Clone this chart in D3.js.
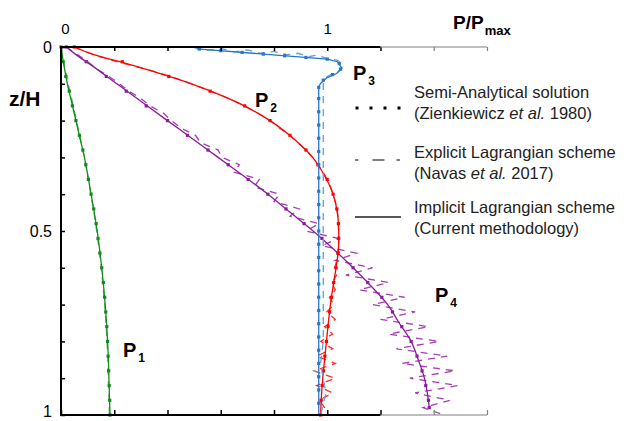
<!DOCTYPE html>
<html>
<head>
<meta charset="utf-8">
<script src="https://cdn.jsdelivr.net/npm/d3@7"></script>
<style>
    body { margin: 0; background: #fff; }
    text { font-family: "Liberation Sans", Arial, sans-serif; }
</style>
</head>
<body>
<svg id="chart" width="627" height="421"></svg>
<script>

// depth grids (z/H)
let zImplicit = [0, 0.02, 0.05, 0.1, 0.15, 0.2, 0.25, 0.3, 0.35, 0.4, 0.45, 0.5, 0.55, 0.6, 0.65, 0.7, 0.75, 0.8, 0.85, 0.9, 0.95, 1];
let z4Implicit = [0, 0.02, 0.05, 0.1, 0.15, 0.2, 0.25, 0.3, 0.35, 0.4, 0.45, 0.5, 0.55, 0.6, 0.65, 0.7, 0.75, 0.8, 0.85, 0.9, 0.95, 0.98];
let zSemi = [0, 0.04, 0.08, 0.12, 0.16, 0.2, 0.24, 0.28, 0.32, 0.36, 0.4, 0.44, 0.48, 0.52, 0.56, 0.6, 0.64, 0.68, 0.72, 0.76, 0.8, 0.84, 0.88, 0.92, 0.96, 1];
let z4Semi = [0, 0.04, 0.08, 0.12, 0.16, 0.2, 0.24, 0.28, 0.32, 0.36, 0.4, 0.44, 0.48, 0.52, 0.56, 0.6, 0.64, 0.68, 0.72, 0.76, 0.8, 0.84, 0.88, 0.92, 0.96, 0.98];
let zExplicit = [0, 0.02, 0.04, 0.06, 0.08, 0.1, 0.12, 0.14, 0.16, 0.18, 0.2, 0.22, 0.24, 0.26, 0.28, 0.3, 0.32, 0.34, 0.36, 0.38, 0.4, 0.42, 0.44, 0.46, 0.48, 0.5,
    0.52, 0.54, 0.56, 0.58, 0.6, 0.62, 0.64, 0.66, 0.68, 0.7, 0.72, 0.74, 0.76, 0.78, 0.8, 0.82, 0.84, 0.86, 0.88, 0.9, 0.92, 0.94, 0.96, 0.98, 1];

// P1
let p1Implicit = [0, 0.004, 0.011, 0.024, 0.04, 0.056, 0.072, 0.088, 0.101, 0.113, 0.125, 0.136, 0.145, 0.153, 0.16, 0.166, 0.171, 0.175, 0.178, 0.18, 0.182, 0.184];
let p1Explicit = [0, 0.005, 0.013, 0.027, 0.043, 0.058, 0.073, 0.088, 0.1, 0.112, 0.124, 0.134, 0.143, 0.151, 0.158, 0.164, 0.169, 0.173, 0.176, 0.178, 0.18, 0.182];
let p1Semi = [0, 0.008, 0.018, 0.031, 0.043, 0.056, 0.069, 0.082, 0.093, 0.103, 0.113, 0.123, 0.132, 0.139, 0.146, 0.153, 0.159, 0.164, 0.168, 0.172, 0.175, 0.177, 0.179, 0.181, 0.183, 0.184];

// P2
let p2Implicit = [0.05, 0.12, 0.27, 0.49, 0.66, 0.785, 0.875, 0.945, 0.99, 1.022, 1.038, 1.043, 1.042, 1.033, 1.022, 1.012, 1.004, 0.997, 0.99, 0.983, 0.978, 0.975];
let p2Semi = [0.05, 0.23, 0.405, 0.56, 0.69, 0.785, 0.86, 0.92, 0.965, 1.0, 1.022, 1.036, 1.042, 1.043, 1.041, 1.033, 1.024, 1.016, 1.009, 1.003, 0.997, 0.991, 0.986, 0.981, 0.977, 0.975];
let p2Explicit = [0.05, 0.12, 0.21, 0.32, 0.41, 0.49, 0.56, 0.63, 0.69, 0.74, 0.785, 0.82, 0.86, 0.89, 0.92, 0.945, 0.965, 0.985, 1.0, 1.012, 1.022, 1.03, 1.036, 1.04, 1.042, 1.043,
    1.043, 1.042, 1.04, 1.036, 1.028, 1.035, 1.018, 1.03, 1.008, 1.025, 0.998, 1.03, 0.99, 1.02, 0.975, 1.02, 0.96, 1.03, 0.95, 1.03, 0.96, 1.02, 0.97, 0.99, 0.975];

// P3
let z3Implicit = [0.005, 0.033, 0.04, 0.058, 0.072, 0.083, 0.099, 0.108, 0.15, 0.3, 0.5, 0.7, 0.9, 1];
let p3Implicit = [0.51, 1.0, 1.038, 1.055, 1.035, 1.0, 0.975, 0.968, 0.968, 0.968, 0.968, 0.968, 0.968, 0.968];
let z3Semi = [0.0056, 0.0101, 0.0147, 0.0193, 0.0239, 0.0284, 0.033, 0.045, 0.06, 0.075, 0.09, 0.11, 0.14, 0.176, 0.212, 0.248, 0.284, 0.32, 0.356, 0.392,
    0.428, 0.464, 0.5, 0.536, 0.572, 0.608, 0.644, 0.68, 0.716, 0.752, 0.788, 0.824, 0.86, 0.896, 0.932, 0.968];
let p3Semi = [0.52, 0.6, 0.68, 0.76, 0.84, 0.92, 1.0, 1.045, 1.05, 1.02, 0.985, 0.968, 0.968, 0.968, 0.968, 0.968, 0.968, 0.968, 0.968, 0.968,
    0.968, 0.968, 0.968, 0.968, 0.968, 0.968, 0.968, 0.968, 0.968, 0.968, 0.968, 0.968, 0.968, 0.968, 0.968, 0.968];
let z3Explicit = [0.002, 0.009, 0.004, 0.013, 0.008, 0.017, 0.012, 0.021, 0.017, 0.026, 0.022, 0.031, 0.036, 0.05, 0.065, 0.08, 0.1, 0.13, 0.2, 0.3, 0.4, 0.5, 0.6, 0.7, 0.8, 0.86, 0.9, 0.94, 0.97, 1.0];
let p3Explicit = [0.5, 0.55, 0.6, 0.65, 0.7, 0.75, 0.8, 0.85, 0.89, 0.93, 0.96, 1.0, 1.04, 1.06, 1.045, 1.0, 0.985, 0.985, 0.985, 0.985, 0.985, 0.985, 0.985, 0.985, 0.985, 0.975, 0.985, 0.995, 0.985, 0.975];

// P4
let p4Implicit = [0.02, 0.055, 0.115, 0.21, 0.305, 0.4, 0.495, 0.59, 0.685, 0.777, 0.862, 0.947, 1.025, 1.097, 1.165, 1.227, 1.27, 1.315, 1.342, 1.365, 1.378, 1.383];
let p4Semi = [0.02, 0.095, 0.17, 0.245, 0.32, 0.4, 0.475, 0.552, 0.628, 0.703, 0.777, 0.845, 0.913, 0.98, 1.04, 1.097, 1.152, 1.205, 1.245, 1.28, 1.315, 1.337, 1.356, 1.37, 1.38, 1.383];
let p4Explicit = [0.02, 0.06, 0.1, 0.135, 0.18, 0.22, 0.255, 0.3, 0.335, 0.385, 0.415, 0.45, 0.505, 0.525, 0.59, 0.605, 0.67, 0.65, 0.745, 0.725, 0.82, 0.8, 0.895, 0.86, 0.97, 0.92,
    1.04, 0.98, 1.11, 1.03, 1.17, 1.07, 1.23, 1.12, 1.29, 1.17, 1.33, 1.2, 1.38, 1.23, 1.42, 1.26, 1.45, 1.28, 1.48, 1.31, 1.49, 1.33, 1.46, 1.36, 1.44];

// axes
let xTicks = [0, 0.2, 0.4, 0.6, 0.8, 1, 1.2, 1.4, 1.6];
let xLabelled = [0, 1];
let yTicks = [0, 0.1, 0.2, 0.3, 0.4, 0.5, 0.6, 0.7, 0.8, 0.9, 1];
let yLabelled = [0, 0.5, 1];

let legendLines = [
    ['Semi-Analytical solution', ['(Zienkiewicz ', 'et al.', ' 1980)']],
    ['Explicit Lagrangian scheme', ['(Navas ', 'et al.', ' 2017)']],
    ['Implicit Lagrangian scheme', ['(Current methodology)', '', '']]
];

let curves = [
    { name: '1', color: '#138a1c', light: '#58b35c', zI: zImplicit, pI: p1Implicit, zE: zImplicit, pE: p1Explicit, zS: zSemi, pS: p1Semi, label: [123, 357] },
    { name: '4', color: '#8b1a9c', light: '#a23fb3', zI: z4Implicit, pI: p4Implicit, zE: zExplicit, pE: p4Explicit, zS: z4Semi, pS: p4Semi, label: [435, 302] },
    { name: '2', color: '#ff0000', light: '#ff3030', zI: zImplicit, pI: p2Implicit, zE: zExplicit, pE: p2Explicit, zS: zSemi, pS: p2Semi, label: [255, 107] },
    { name: '3', color: '#2a76c6', light: '#5c9fdc', zI: z3Implicit, pI: p3Implicit, zE: z3Explicit, pE: p3Explicit, zS: z3Semi, pS: p3Semi, label: [353, 80] }
];

let svg = d3.select('#chart');

let x = d3.scaleLinear().domain([0, 1.6]).range([61, 487]);
let y = d3.scaleLinear().domain([0, 1]).range([47, 415]);

let toPoints = (zs, ps) => zs.map((z, i) => ({ z: z, p: ps[i] }));

let smoothLine = d3.line()
    .x(d => x(d.p))
    .y(d => y(d.z))
    .curve(d3.curveCatmullRom.alpha(0.5));

let plainLine = d3.line()
    .x(d => x(d.p))
    .y(d => y(d.z));

// curves
curves.forEach(c => {
    let g = svg.append('g');

    g.append('path')
        .attr('d', plainLine(toPoints(c.zE, c.pE)))
        .attr('fill', 'none')
        .attr('stroke', c.light)
        .attr('stroke-width', 1.3)
        .attr('stroke-dasharray', '7,6');

    let implicitPath = c.name === '3' ? plainLine : smoothLine;
    g.append('path')
        .attr('d', implicitPath(toPoints(c.zI, c.pI)))
        .attr('fill', 'none')
        .attr('stroke', c.color)
        .attr('stroke-width', 1.3);

    g.selectAll('rect')
        .data(toPoints(c.zS, c.pS))
        .join('rect')
        .attr('x', d => x(d.p) - 1.6)
        .attr('y', d => y(d.z) - 1.6)
        .attr('width', 3.2)
        .attr('height', 3.2)
        .attr('fill', c.color);

    let t = g.append('text')
        .attr('x', c.label[0])
        .attr('y', c.label[1])
        .attr('font-size', 20)
        .attr('font-weight', 'bold');
    t.append('tspan').text('P');
    t.append('tspan')
        .attr('dx', 2)
        .attr('dy', 5)
        .attr('font-size', 12)
        .text(c.name);
});

// top axis
let topAxis = svg.append('g')
    .attr('transform', `translate(0,${y(0)})`)
    .call(d3.axisTop(x)
        .tickValues(xTicks)
        .tickSizeInner(-4)
        .tickSizeOuter(0)
        .tickPadding(13)
        .tickFormat(d => xLabelled.includes(d) ? d : ''));
topAxis.selectAll('.tick text').attr('dx', d => d === 0 ? 4 : 0);

let bottomAxis = svg.append('g')
    .attr('transform', `translate(0,${y(1)})`)
    .call(d3.axisBottom(x)
        .tickValues(xTicks)
        .tickSizeInner(-5)
        .tickSizeOuter(0)
        .tickFormat(''));

[topAxis, bottomAxis].forEach(a => {
    a.select('.domain').remove();
    a.selectAll('.tick line')
        .attr('stroke', d => d > 1.2 ? '#808080' : '#000')
        .attr('stroke-width', d => d > 1.2 ? 1.2 : 1.5);
    a.selectAll('.tick text')
        .attr('font-size', 15)
        .attr('font-family', '"Liberation Sans", Arial, sans-serif')
        .attr('fill', '#000');
});

[y(0), y(1)].forEach(yy => {
    svg.append('line')
        .attr('x1', x(0) - 1).attr('x2', x(1.2))
        .attr('y1', yy).attr('y2', yy)
        .attr('stroke', '#000')
        .attr('stroke-width', 2);
    svg.append('line')
        .attr('x1', x(1.2)).attr('x2', x(1.6))
        .attr('y1', yy).attr('y2', yy)
        .attr('stroke', '#808080')
        .attr('stroke-width', 1.2);
});

let leftAxis = svg.append('g')
    .attr('transform', `translate(${x(0)},0)`)
    .call(d3.axisLeft(y)
        .tickValues(yTicks)
        .tickSizeInner(-4)
        .tickSizeOuter(0)
        .tickPadding(9)
        .tickFormat(d => yLabelled.includes(d) ? d : ''));
leftAxis.select('.domain').remove();
leftAxis.selectAll('.tick line').attr('stroke-width', 1.5);
leftAxis.selectAll('.tick text')
    .attr('font-size', 16)
    .attr('font-family', '"Liberation Sans", Arial, sans-serif')
    .attr('fill', '#000')
    .attr('dy', d => d === 1 ? '0.1em' : '0.32em');

svg.append('line')
    .attr('x1', x(0)).attr('x2', x(0))
    .attr('y1', y(0) - 1).attr('y2', y(1) + 1)
    .attr('stroke', '#000')
    .attr('stroke-width', 2);

// axis titles
let xTitle = svg.append('text')
    .attr('x', 453)
    .attr('y', 29)
    .attr('font-size', 19)
    .attr('font-weight', 'bold');
xTitle.append('tspan').text('P/P');
xTitle.append('tspan').attr('dx', 1).attr('dy', 6).attr('font-size', 13).text('max');

svg.append('text')
    .attr('x', 9)
    .attr('y', 106)
    .attr('font-size', 21)
    .attr('font-weight', 'bold')
    .text('z/H');

// legend
let legendY = [98, 158, 213];
let legend = svg.append('g');

legendLines.forEach((l, i) => {
    let t = legend.append('text')
        .attr('x', 414)
        .attr('y', legendY[i])
        .attr('font-size', 16.5)
        .attr('fill', '#222');
    t.append('tspan').text(l[0]);

    let t2 = legend.append('text')
        .attr('x', 414)
        .attr('y', legendY[i] + 21)
        .attr('font-size', 16.5)
        .attr('fill', '#222');
    t2.append('tspan').text(l[1][0]);
    t2.append('tspan').attr('font-style', 'italic').text(l[1][1]);
    t2.append('tspan').text(l[1][2]);
});

legend.selectAll('rect')
    .data([357, 371, 385, 399])
    .join('rect')
    .attr('x', d => d - 1.5)
    .attr('y', 106.5)
    .attr('width', 3)
    .attr('height', 3)
    .attr('fill', '#000');

legend.append('line')
    .attr('x1', 355).attr('x2', 401)
    .attr('y1', 160).attr('y2', 160)
    .attr('stroke', '#555')
    .attr('stroke-width', 1.3)
    .attr('stroke-dasharray', '3.5,14,12,12');

legend.append('line')
    .attr('x1', 355).attr('x2', 401)
    .attr('y1', 217).attr('y2', 217)
    .attr('stroke', '#222')
    .attr('stroke-width', 1.3);

</script>
</body>
</html>
